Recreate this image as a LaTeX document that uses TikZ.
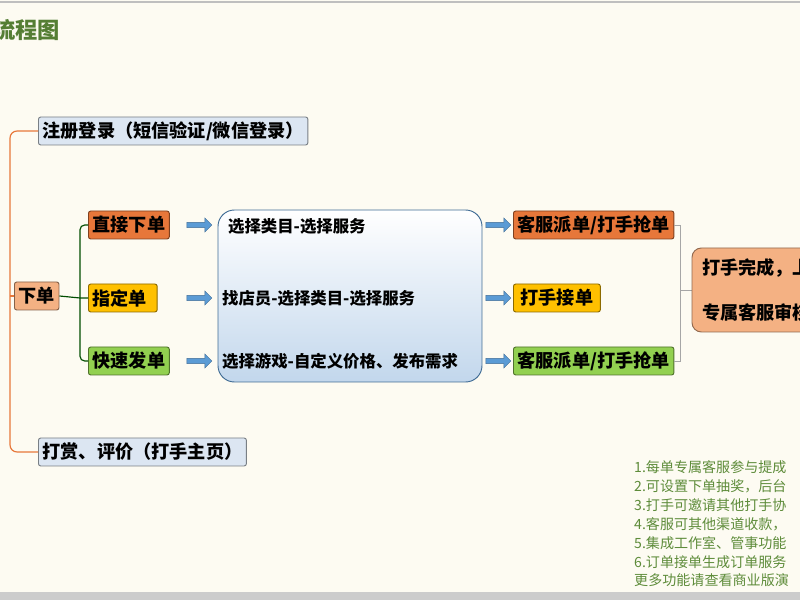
\documentclass[tikz,border=0pt]{standalone}
\usepackage{fontspec}
\setmainfont{Noto Sans CJK SC}
\usetikzlibrary{shapes.arrows,positioning}
\definecolor{bgc}{HTML}{FDFBF2}
\definecolor{boxblue}{HTML}{DCE6F2}
\definecolor{ordk}{HTML}{E7773A}
\definecolor{orlt}{HTML}{F4B183}
\definecolor{yel}{HTML}{FFC000}
\definecolor{grn}{HTML}{92D050}
\definecolor{arr}{HTML}{5B9BD5}
\definecolor{txtg}{HTML}{5E8C3A}
\tikzset{
    box/.style={draw=#1!55!black,fill=#1,rounded corners=2pt,inner ysep=2pt,inner xsep=3.5pt,anchor=west,
                font=\bfseries\fontsize{15.5}{17}\selectfont,line width=0.8pt,minimum height=0.84cm},
    barrow/.style={single arrow,fill=arr,draw=arr!70!black,minimum height=0.75cm,
                   minimum width=0.42cm,single arrow head extend=0.1cm,inner sep=1.6pt},
    note/.style={anchor=west,text=txtg,font=\fontsize{12}{13}\selectfont,inner sep=0pt},
    mid/.style={anchor=west,font=\bfseries\fontsize{14}{16}\selectfont},
}
\begin{document}
\begin{tikzpicture}[x=0.03cm,y=-0.03cm]
\clip (0,0) rectangle (800,600);
\fill[bgc] (0,0) rectangle (800,600);
\draw[gray!50,line width=1pt] (0,2) -- (800,2);
\fill[gray!40] (0,592) rectangle (800,600);
% title
\node[anchor=east,text=txtg!90!black,font=\bfseries\fontsize{19}{20}\selectfont] (title) at (64,30) {流程图};
% left level
\node[box=boxblue] (reg) at (38,131) {注册登录（短信验证/微信登录）};
\node[box=orlt] (order) at (14,296) {下单};
\node[box=boxblue] (tip) at (38,452) {打赏、评价（打手主页）};
\draw[ordk,line width=1pt,rounded corners=6pt] (reg.west) -- (10,131) -- (10,452) -- (tip.west);
\draw[ordk,line width=1pt] (10,296) -- (order.west);
% order types
\node[box=ordk] (direct) at (88,225) {直接下单};
\node[box=yel] (assign) at (88,298) {指定单\,\,};
\node[box=grn] (quick) at (88,361) {快速发单};
\draw[green!30!black,line width=1pt,rounded corners=4pt] (direct.west) -- (80,225) -- (80,361) -- (quick.west);
\draw[green!30!black,line width=1pt] (order.east) -- (80,298) -- (assign.west);
% middle panel
\draw[arr!70!black,top color=white,bottom color=boxblue!80!arr,rounded corners=14pt,line width=0.8pt]
  (218,210) rectangle (482,382);
\node[mid] (s1) at (224,226) {选择类目-选择服务};
\node[mid] (s2) at (218,298) {找店员-选择类目-选择服务};
\node[mid] (s3) at (218,361) {选择游戏-自定义价格、发布需求};
\foreach \y in {225,298,361} {
  \node[barrow] at (198,\y) {};
  \node[barrow] at (497,\y) {};
}
% results
\node[box=ordk] (r1) at (513,225) {客服派单/打手抢单};
\node[box=yel] (r2) at (513,298) {\,打手接单\,};
\node[box=grn] (r3) at (513,361) {客服派单/打手抢单};
\draw[gray!70,line width=0.8pt] (r1.east) -- (680,225) -- (680,361) -- (r3.east);
\draw[gray!70,line width=0.8pt] (680,290) -- (692,290);
\draw[orlt!60!black,fill=orlt,rounded corners=8pt,line width=0.8pt] (692,248) rectangle (830,332);
\node[mid,font=\bfseries\fontsize{15.5}{17}\selectfont] (done1) at (698,268) {打手完成，上};
\node[mid,font=\bfseries\fontsize{15.5}{17}\selectfont] (done2) at (698,313) {专属客服审核};
% notes
\node[note] (n1) at (634,467) {1.每单专属客服参与提成};
\node[note] (n2) at (634,486) {2.可设置下单抽奖，后台};
\node[note] (n3) at (634,505) {3.打手可邀请其他打手协};
\node[note] (n4) at (634,524) {4.客服可其他渠道收款，};
\node[note] (n5) at (634,543) {5.集成工作室、管事功能};
\node[note] (n6) at (634,562) {6.订单接单生成订单服务};
\node[note] (n7) at (634,580) {更多功能请查看商业版演};
\end{tikzpicture}
\end{document}
